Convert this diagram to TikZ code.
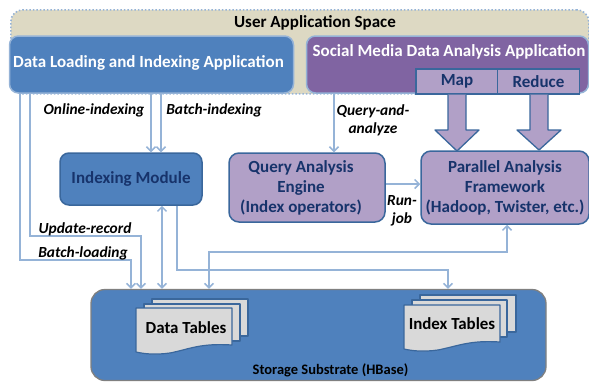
\documentclass[tikz,border=0pt]{standalone}
\usepackage{fontspec}
\setmainfont{Carlito}
\usetikzlibrary{arrows.meta,calc}
\definecolor{blueF}{HTML}{4F81BD}
\definecolor{lineB}{HTML}{95B3D7}
\definecolor{purpF}{HTML}{8064A2}
\definecolor{purpL}{HTML}{B1A0C7}
\definecolor{edgeD}{HTML}{3A679C}
\definecolor{navyT}{HTML}{17336B}
\definecolor{spaceF}{HTML}{DDD9C3}
\definecolor{docF}{HTML}{D9D9D9}
\tikzset{
  box/.style n args={4}{draw=#1,fill=#2,line width=1.5pt,rounded corners=#3,inner sep=0pt,align=center,font=\bfseries\fontsize{#4}{20}\selectfont},
  conn/.style={draw=lineB,line width=1.5pt,-{Straight Barb[length=4.5pt,width=9pt,line width=1.5pt]}},
  connB/.style={conn,{Straight Barb[length=4.5pt,width=9pt,line width=1.5pt]}-{Straight Barb[length=4.5pt,width=9pt,line width=1.5pt]}},
  lab/.style={font=\bfseries\itshape\fontsize{15.4}{18}\selectfont,inner sep=0pt,align=center},
  fat/.style={draw=edgeD,fill=purpL,line width=1.3pt,line join=round},
  doc/.style={draw=edgeD,fill=docF,line width=1.2pt,line join=round},
  dtext/.style={font=\bfseries\fontsize{16.9}{17}\selectfont,inner sep=0pt,text=black}
}
\begin{document}
\begin{tikzpicture}[x=1pt,y=-1pt]
\useasboundingbox (0,0) rectangle (589,381);
% user space
\node[box={lineB}{spaceF}{12pt}{15},dotted,line width=1.6pt,minimum width=578pt,minimum height=84pt,anchor=north west] (space) at (10,9) {};
\node[inner sep=0pt,font=\bfseries\fontsize{17}{17}\selectfont] (spacet) at (315,23) {User Application Space};
% apps
\node[box={lineB}{blueF}{9pt}{17},text=white,minimum width=284pt,minimum height=57pt] (dl) at (151.5,64.5) {};
\node[inner sep=0pt,text=white,font=\bfseries\fontsize{17}{17}\selectfont] (dlt) at (148.5,63) {Data Loading and Indexing Application};
\node[box={lineB}{purpF}{9pt}{17},minimum width=282pt,minimum height=57pt] (sm) at (447.5,64.5) {};
\node[inner sep=0pt,text=white,font=\bfseries\fontsize{17}{17}\selectfont] (smt) at (449,52) {Social Media Data Analysis Application};
% fat arrows
\node[box={edgeD}{purpL}{0pt}{17},line width=1.3pt,text=navyT,minimum width=82pt,minimum height=25pt] (map) at (457,81.5) {Map};
\node[box={edgeD}{purpL}{0pt}{17},line width=1.3pt,text=navyT,minimum width=81.5pt,minimum height=25pt] (red) at (538.5,81.5) {Reduce};
% modules
\node[box={edgeD}{purpL}{10pt}{17},text=navyT,minimum width=168pt,minimum height=73pt] (paf) at (505,187.5) {Parallel Analysis\\Framework\\(Hadoop, Twister, etc.)};
\draw[fat] (map.south -| 448,0) -- (448,130) -- (435,130) -- (457,151) -- (479,130) -- (466,130) -- (map.south -| 466,0);
\draw[fat] (red.south -| 530,0) -- (530,130) -- (517,130) -- (539,150) -- (561,130) -- (548,130) -- (red.south -| 548,0);
\node[box={edgeD}{blueF}{9pt}{17},text=navyT,minimum width=142pt,minimum height=52pt] (im) at (131,179) {Indexing Module};
\node[box={edgeD}{purpL}{10pt}{17},text=navyT,minimum width=156pt,minimum height=69pt] (qa) at (307,187.5) {};
\node[inner sep=0pt,align=center,text=navyT,font=\bfseries\fontsize{17}{20}\selectfont] (qat) at (301,188) {Query Analysis\\Engine\\(Index operators)};
% storage
\node[box={gray}{blueF}{14pt}{15},line width=1.3pt,minimum width=455pt,minimum height=91pt] (st) at (318.5,335) {};
\node[inner sep=0pt,font=\bfseries\fontsize{14.5}{15}\selectfont] (stt) at (330.5,370) {Storage Substrate (HBase)};
% doc stacks
\draw[doc] (152,299) -- (248,299) -- (248,336) -- (152,336) -- cycle;
\draw[doc] (144,304) -- (240,304) -- (240,341) -- (144,341) -- cycle;
\draw[doc] (136,308) -- (232,308) -- (232,345) .. controls (200,343) and (190,349) .. (170,353) .. controls (155,355) and (145,354) .. (136,352) -- cycle;
\node[dtext] (dt) at (186,328) {Data Tables};
\draw[doc] (420,295) -- (516,295) -- (516,332) -- (420,332) -- cycle;
\draw[doc] (412,300) -- (507,300) -- (507,337) -- (412,337) -- cycle;
\draw[doc] (404,305) -- (500,305) -- (500,342) .. controls (470,340) and (458,346) .. (438,350) .. controls (423,352) and (413,351) .. (404,349) -- cycle;
\node[dtext] (it) at (452,324) {Index Tables};
% connectors
\coordinate (a1) at (20,260); \coordinate (a2) at (131,260);
\draw[conn] (dl.south -| a1) -- (a1) -- (a2) -- (st.north -| a2);
\coordinate (b1) at (30,236); \coordinate (b2) at (141,236);
\draw[conn] (dl.south -| b1) -- (b1) -- (b2) -- (st.north -| b2);
\coordinate (c1) at (151,0); \coordinate (c2) at (161,0);
\draw[conn] (dl.south -| c1) -- (im.north -| c1);
\draw[conn] (dl.south -| c2) -- (im.north -| c2);
\coordinate (d1) at (162,0);
\draw[connB] (im.south -| d1) -- (st.north -| d1);
\coordinate (e1) at (177,270); \coordinate (e2) at (448,270);
\draw[conn] (im.south -| e1) -- (e1) -- (e2) -- (st.north -| e2);
\coordinate (f1) at (209,252); \coordinate (f2) at (507,252);
\draw[connB] (st.north -| f1) -- (f1) -- (f2) -- (paf.south -| f2);
\coordinate (g1) at (334,0);
\draw[conn] (sm.south -| g1) -- (qa.north -| g1);
\coordinate (h1) at (0,184);
\draw[conn] (qa.east |- h1) -- (paf.west |- h1);
% labels
\node[lab] (l1) at (94,110) {Online-indexing};
\node[lab] (l2) at (214,110) {Batch-indexing};
\node[lab] (l3) at (373,120) {Query-and-\\analyze};
\node[lab] (l4) at (402,211) {Run-\\job};
\node[lab] (l5) at (85,229) {Update-record};
\node[lab] (l6) at (83,253) {Batch-loading};
\end{tikzpicture}
\end{document}
